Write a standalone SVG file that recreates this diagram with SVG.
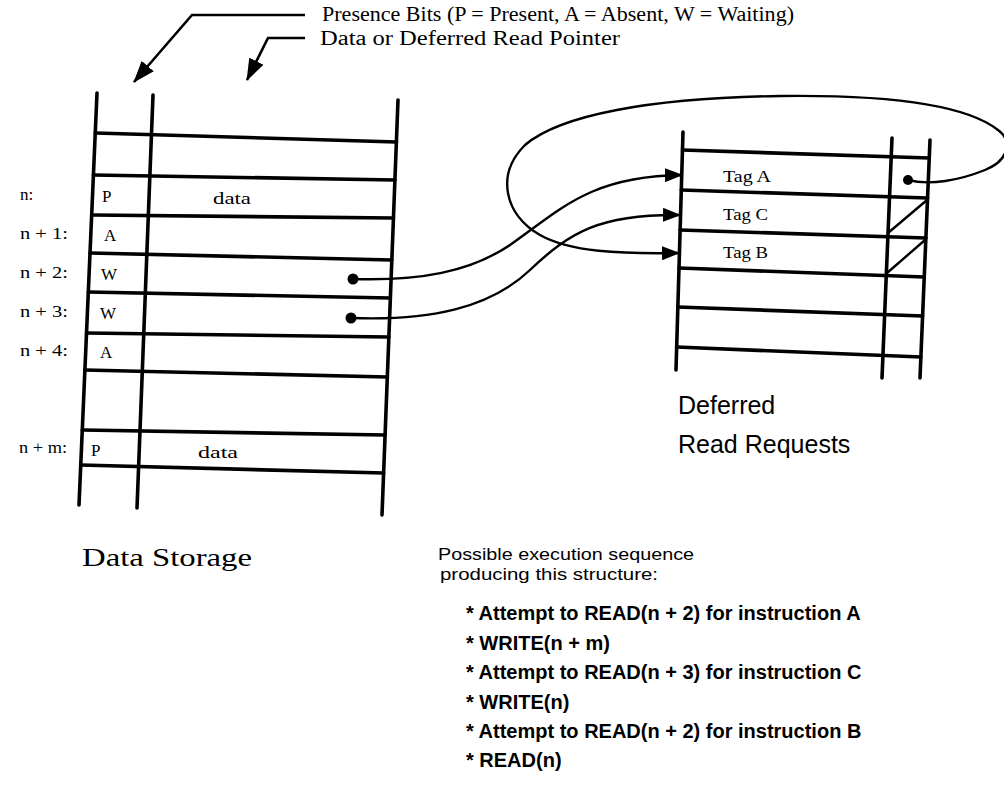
<svg xmlns="http://www.w3.org/2000/svg" width="1004" height="806" viewBox="0 0 1004 806">
<style>
.bg{fill:#fff}
.tl{stroke:#000;stroke-width:3.6;fill:none;stroke-linecap:round}
.cv{stroke:#000;stroke-width:2.4;fill:none}
.ta{stroke:#000;stroke-width:2.6;fill:none}
.ser{font-family:"Liberation Serif","Times New Roman",serif;fill:#000}
.san{font-family:"Liberation Sans",Arial,sans-serif;fill:#000}
.lbl{font-size:17px}
.cell{font-size:17px}
.tag{font-size:17px}
.big{font-size:26px}
.seq{font-size:17px}
.item{font-size:20px;font-weight:bold}
</style>
<defs>
<marker id="ah" viewBox="0 0 18 14" refX="17" refY="7" markerWidth="18" markerHeight="14" markerUnits="userSpaceOnUse" orient="auto">
<path d="M0,0 L18,7 L0,14 z" fill="#000"/>
</marker>
<marker id="ahBig" viewBox="0 0 22 16" refX="21" refY="8" markerWidth="22" markerHeight="16" markerUnits="userSpaceOnUse" orient="auto">
<path d="M0,0 L22,8 L0,16 z" fill="#000"/>
</marker>
</defs>
<rect class="bg" x="0" y="0" width="1004" height="806"/>

<g id="legend">
<text class="ser" x="322" y="21" font-size="20" textLength="472" lengthAdjust="spacingAndGlyphs">Presence Bits (P = Present, A = Absent, W = Waiting)</text>
<text class="ser" x="320" y="45" font-size="20" textLength="300" lengthAdjust="spacingAndGlyphs">Data or Deferred Read Pointer</text>
</g>

<g id="data-storage">
<path class="tl" d="M97,93 L79,505 M153,95 L137,508 M398,100 L382,515"/>
<path class="tl" d="M95.3,133 L396.4,142 M93.4,175 L394.9,180 M91.7,215 L393.5,218 M90,253 L391.8,260 M88.3,292 L390.4,298 M86.5,333 L388.9,337 M84.9,370 L387.3,377 M82.3,430 L385.1,435 M80.7,465 L383.6,473"/>
<g class="ser lbl">
<text x="20" y="200">n:</text>
<text x="20" y="239" textLength="48" lengthAdjust="spacingAndGlyphs">n + 1:</text>
<text x="20" y="278" textLength="48" lengthAdjust="spacingAndGlyphs">n + 2:</text>
<text x="20" y="317" textLength="48" lengthAdjust="spacingAndGlyphs">n + 3:</text>
<text x="20" y="356" textLength="48" lengthAdjust="spacingAndGlyphs">n + 4:</text>
<text x="19" y="453" textLength="48" lengthAdjust="spacingAndGlyphs">n + m:</text>
</g>
<g class="ser cell">
<text x="102" y="202">P</text>
<text x="213" y="204" textLength="38" lengthAdjust="spacingAndGlyphs">data</text>
<text x="104" y="241">A</text>
<text x="101" y="280">W</text>
<text x="100" y="319">W</text>
<text x="100" y="358">A</text>
<text x="91" y="456">P</text>
<text x="198" y="458" textLength="40" lengthAdjust="spacingAndGlyphs">data</text>
</g>
<circle cx="353" cy="279" r="5.5" fill="#000"/>
<circle cx="351" cy="318" r="5.5" fill="#000"/>
<text class="ser big" x="82" y="566" textLength="170" lengthAdjust="spacingAndGlyphs">Data Storage</text>
</g>

<g id="deferred-read-requests">
<path class="tl" d="M683,132 L676,370 M892,138 L882,378 M930,140 L920,378"/>
<path class="tl" d="M682.5,150 L929.2,158 M681.3,190 L927.6,198 M680.1,230 L925.9,238 M679,268 L924.2,277 M677.8,307 L922.6,316 M676.6,347 L920.9,357"/>
<g class="ser tag">
<text x="723" y="182" textLength="48" lengthAdjust="spacingAndGlyphs">Tag A</text>
<text x="723" y="220" textLength="45" lengthAdjust="spacingAndGlyphs">Tag C</text>
<text x="723" y="258" textLength="45" lengthAdjust="spacingAndGlyphs">Tag B</text>
</g>
<circle cx="908" cy="180" r="5" fill="#000"/>
<path class="cv" d="M888,233 L927,200 M887,273 L925,240"/>
<text class="san" x="678" y="414" font-size="25">Deferred</text>
<text class="san" x="678" y="453" font-size="25">Read Requests</text>
</g>

<g id="connectors">
<path class="ta" d="M305,15 L192,15 L134,82" marker-end="url(#ahBig)"/>
<path class="ta" d="M305,38 L268,38 L247,80" marker-end="url(#ahBig)"/>
<path class="cv" d="M353,279 C420,281 470,272 510,245 C560,210 590,176 682,175" marker-end="url(#ah)"/>
<path class="cv" d="M351,318 C430,321 490,308 530,270 C570,232 600,214 680,215" marker-end="url(#ah)"/>
<path class="cv" d="M908,180 C930,186 960,180 985,170 C1010,160 1012,140 998,130 C960,100 860,95 780,96 C650,98 560,115 525,145 C495,175 505,215 540,235 C570,252 620,254 679,253" marker-end="url(#ah)"/>
</g>

<g id="sequence">
<text class="san seq" x="438" y="560" textLength="256" lengthAdjust="spacingAndGlyphs">Possible execution sequence</text>
<text class="san seq" x="440" y="580" textLength="218" lengthAdjust="spacingAndGlyphs">producing this structure:</text>
<g class="san item">
<text x="466" y="620">* Attempt to READ(n + 2) for instruction A</text>
<text x="466" y="650">* WRITE(n + m)</text>
<text x="466" y="679">* Attempt to READ(n + 3) for instruction C</text>
<text x="466" y="709">* WRITE(n)</text>
<text x="466" y="738">* Attempt to READ(n + 2) for instruction B</text>
<text x="466" y="767">* READ(n)</text>
</g>
</g>
</svg>
